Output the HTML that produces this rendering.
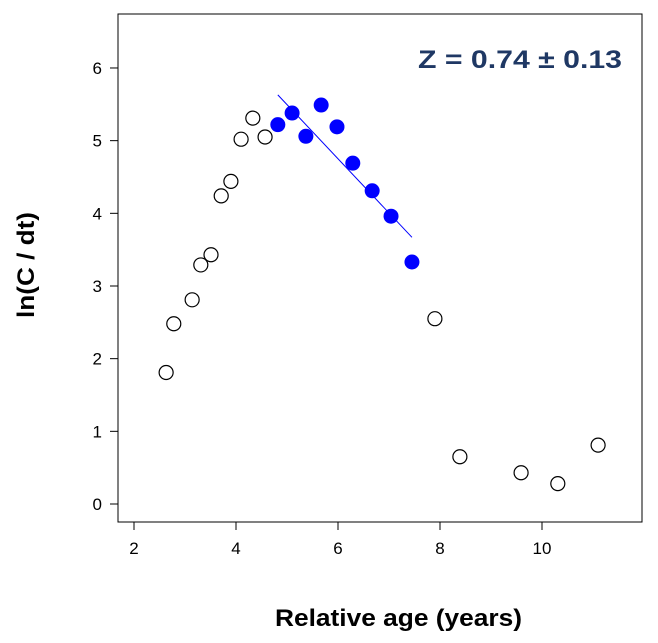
<!DOCTYPE html>
<html><head><meta charset="utf-8"><style>
body{margin:0;background:#fff;}
svg{display:block;font-family:"Liberation Sans",sans-serif;}
</style></head><body>
<svg width="658" height="643" viewBox="0 0 658 643">
<rect x="118" y="14" width="524" height="508" fill="none" stroke="#000" stroke-width="1"/>
<g id="axes"></g>
<g id="marks"></g>
<text x="418" y="68" font-size="25" font-weight="bold" fill="#1f3864" textLength="204" lengthAdjust="spacingAndGlyphs">Z = 0.74 ± 0.13</text>
<text x="275" y="626" font-size="24" font-weight="bold" fill="#000" textLength="247" lengthAdjust="spacingAndGlyphs">Relative age (years)</text>
<text transform="translate(34,318) rotate(-90)" font-size="24" font-weight="bold" fill="#000" textLength="106" lengthAdjust="spacingAndGlyphs">ln(C / dt)</text>
</svg>
<script>
const xTicks=[2,4,6,8,10];
const yTicks=[0,1,2,3,4,5,6];
const openX=[2.63,2.78,3.14,3.31,3.51,3.71,3.90,4.10,4.33,4.57,7.90,8.39,9.59,10.31,11.10];
const openY=[1.81,2.48,2.81,3.29,3.43,4.24,4.44,5.02,5.31,5.05,2.55,0.65,0.43,0.28,0.81];
const fillX=[4.82,5.10,5.37,5.67,5.98,6.29,6.67,7.04,7.45];
const fillY=[5.22,5.38,5.06,5.49,5.19,4.69,4.31,3.96,3.33];
const fitX=[4.82,7.45];
const fitY=[5.63,3.67];
const NS="http://www.w3.org/2000/svg";
function sx(v){return 134+(v-2)*51;}
function sy(v){return 504-v*72.67;}
function mk(t,a,p){const e=document.createElementNS(NS,t);for(const k in a)e.setAttribute(k,a[k]);p.appendChild(e);return e;}
const ax=document.getElementById('axes'),mg=document.getElementById('marks');
xTicks.forEach(v=>{
 const l=mk('line',{x1:sx(v),x2:sx(v),y1:522,y2:530,stroke:'#000'},ax);
 
 
 const t=mk('text',{x:sx(v),y:554,'text-anchor':'middle','font-size':17,fill:'#000'},ax);t.textContent=v;
 
 
});
mk('line',{x1:sx(2),x2:sx(10),y1:522,y2:522,stroke:'#000'},ax);
yTicks.forEach(v=>{
 const l=mk('line',{x1:110,x2:118,y1:sy(v),y2:sy(v),stroke:'#000'},ax);
 
 
 const t=mk('text',{x:102,y:sy(v)+6,'text-anchor':'end','font-size':17,fill:'#000'},ax);t.textContent=v;
 
 
});
const fl=mk('line',{x1:sx(fitX[0]),y1:sy(fitY[0]),x2:sx(fitX[1]),y2:sy(fitY[1]),stroke:'#0000ff','stroke-width':1},mg);


openX.forEach((x,i)=>{
 const c=mk('circle',{cx:sx(x),cy:sy(openY[i]),r:7,fill:'#fff',stroke:'#000','stroke-width':1.2},mg);
 
 
});
fillX.forEach((x,i)=>{
 const c=mk('circle',{cx:sx(x),cy:sy(fillY[i]),r:7.5,fill:'#0000ff'},mg);
 
 
});
</script>
</body></html>
